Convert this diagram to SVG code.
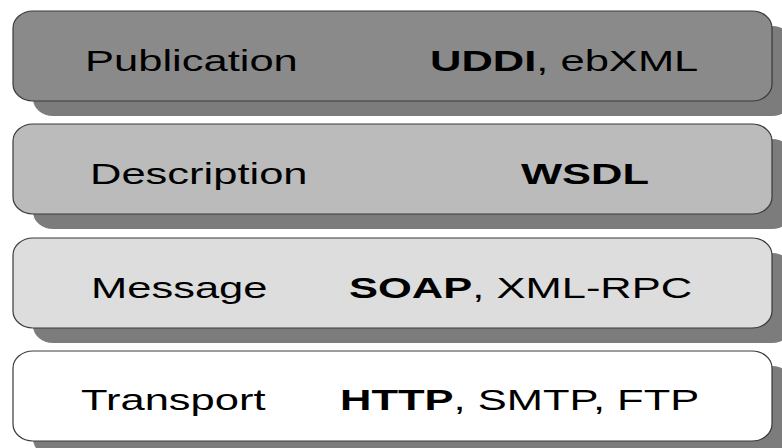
<svg xmlns="http://www.w3.org/2000/svg" width="782" height="448" viewBox="0 0 782 448">
  <style>
    .shadow { fill: #7c7c7c; stroke: none; }
    .box { stroke: #3a3a3a; stroke-width: 1.2; }
    .label { font-family: "Liberation Sans", Arial, sans-serif; font-size: 30px; fill: #000; }
    .strong { font-weight: bold; }
  </style>
  <defs>
    <!-- one rounded layer shape, reused for shadow and face -->
    <rect id="layer" x="0" y="0" width="759" height="90" rx="20" ry="17"/>
  </defs>
  <rect width="782" height="448" fill="#ffffff"/>

  <g id="publication">
    <use href="#layer" class="shadow" x="33" y="26"/>
    <use href="#layer" class="box" x="13" y="11" fill="#8a8a8a"/>
    <text class="label" transform="matrix(1.45 0 0 1 85 71)">Publication</text>
    <text class="label" transform="matrix(1.45 0 0 1 430 71)"><tspan class="strong">UDDI</tspan>, ebXML</text>
  </g>

  <g id="description">
    <use href="#layer" class="shadow" x="33" y="139"/>
    <use href="#layer" class="box" x="13" y="124" fill="#bbbbbb"/>
    <text class="label" transform="matrix(1.45 0 0 1 90 184)">Description</text>
    <text class="label strong" transform="matrix(1.45 0 0 1 521 184)">WSDL</text>
  </g>

  <g id="message">
    <use href="#layer" class="shadow" x="33" y="253"/>
    <use href="#layer" class="box" x="13" y="238" fill="#dddddd"/>
    <text class="label" transform="matrix(1.45 0 0 1 91 298)">Message</text>
    <text class="label" transform="matrix(1.45 0 0 1 349 298)"><tspan class="strong">SOAP</tspan>, XML-RPC</text>
  </g>

  <g id="transport">
    <use href="#layer" class="shadow" x="33" y="366"/>
    <use href="#layer" class="box" x="13" y="351" fill="#ffffff"/>
    <text class="label" transform="matrix(1.45 0 0 1 81 410)">Transport</text>
    <text class="label" transform="matrix(1.45 0 0 1 340 410)"><tspan class="strong">HTTP</tspan>, SMTP, FTP</text>
  </g>

  <g id="connectors"/>
</svg>
